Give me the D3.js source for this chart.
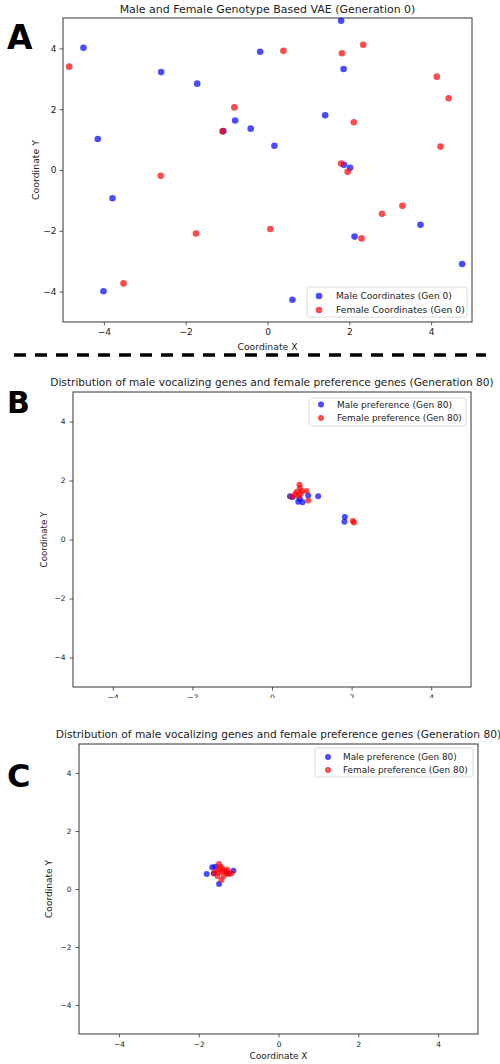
<!DOCTYPE html>
<html>
<head>
<meta charset="utf-8">
<script src="https://cdn.jsdelivr.net/npm/d3@7"></script>
<style>
  html, body { margin: 0; padding: 0; background: #fff; }
  svg { display: block; }
  text { font-family: "DejaVu Sans", sans-serif; fill: #222; }
</style>
</head>
<body>
<script>
// ---------------- DATA ----------------
const xTicks = [-4, -2, 0, 2, 4];
const yTicks = [-4, -2, 0, 2, 4];

// Panel A: Generation 0
const titleA = "Male and Female Genotype Based VAE (Generation 0)";
const legendA = ["Male Coordinates (Gen 0)", "Female Coordinates (Gen 0)"];
const maleA_x = [-4.50, -4.15, -2.60, -1.72, -1.08, -0.79, -0.41, -0.18, 1.80, 1.86, 1.41, 0.17, 1.87, 2.02, -3.79, -4.01, 2.13, 3.74, 4.76, 0.61];
const maleA_y = [4.02, 1.02, 3.22, 2.84, 1.28, 1.63, 1.36, 3.89, 4.91, 3.32, 1.80, 0.80, 0.17, 0.07, -0.93, -3.99, -2.19, -1.80, -3.09, -4.27];
const femaleA_x = [-4.85, -0.81, -1.10, -2.61, 0.39, 2.34, 1.82, 4.14, 4.43, 2.11, 4.23, 1.80, 1.96, -1.75, -3.52, 0.07, 2.80, 3.30, 2.30];
const femaleA_y = [3.40, 2.06, 1.27, -0.19, 3.92, 4.12, 3.84, 3.07, 2.36, 1.57, 0.77, 0.21, -0.06, -2.09, -3.73, -1.94, -1.44, -1.18, -2.25];

// Panel B: Generation 80
const titleB = "Distribution of male vocalizing genes and female preference genes (Generation 80)";
const legendB = ["Male preference (Gen 80)", "Female preference (Gen 80)"];
const maleB_x = [0.45, 0.91, 1.16, 0.66, 0.77, 0.70, 0.52, 1.83, 1.82];
const maleB_y = [1.47, 1.49, 1.47, 1.28, 1.26, 1.38, 1.44, 0.76, 0.60];
const femaleB_x = [0.69, 0.70, 0.62, 0.75, 0.87, 0.58, 0.49, 0.91, 0.66, 0.72, 2.03, 2.06];
const femaleB_y = [1.86, 1.75, 1.62, 1.64, 1.64, 1.53, 1.45, 1.32, 1.47, 1.55, 0.63, 0.58];

// Panel C: Generation 80
const titleC = "Distribution of male vocalizing genes and female preference genes (Generation 80)";
const legendC = ["Male preference (Gen 80)", "Female preference (Gen 80)"];
const maleC_x = [-1.80, -1.66, -1.58, -1.49, -1.13, -1.62, -1.28];
const maleC_y = [0.52, 0.75, 0.77, 0.17, 0.63, 0.54, 0.54];
const femaleC_x = [-1.49, -1.53, -1.41, -1.33, -1.62, -1.18, -1.53, -1.37, -1.43, -1.24, -1.45, -1.28, -1.40, -1.50];
const femaleC_y = [0.86, 0.66, 0.60, 0.60, 0.54, 0.54, 0.45, 0.45, 0.31, 0.52, 0.77, 0.66, 0.70, 0.58];

const axisLabelX = "Coordinate X";
const axisLabelY = "Coordinate Y";

// ---------------- DRAW ----------------
const W = 500, H = 1064;
const svg = d3.select("body").append("svg").attr("width", W).attr("height", H);

const MALE = "rgba(0,0,255,0.7)";
const FEMALE = "rgba(255,0,0,0.7)";

function fitText(sel, target) {
  const w = sel.node().getComputedTextLength();
  const fs = parseFloat(sel.attr("font-size"));
  if (w > 0) sel.attr("font-size", fs * target / w);
  return sel;
}

function zip(xs, ys) { return xs.map((x, i) => ({ x, y: ys[i] })); }

function panel(cfg) {
  const g = svg.append("g");
  const clipId = "clip" + cfg.letter;
  if (cfg.clipBottom) {
    svg.append("clipPath").attr("id", clipId)
      .append("rect").attr("x", 0).attr("y", 0).attr("width", W).attr("height", cfg.clipBottom);
    g.attr("clip-path", `url(#${clipId})`);
  }
  const x = d3.scaleLinear().domain([-5, 5]).range([cfg.left, cfg.right]);
  const y = d3.scaleLinear().domain([-5, 5]).range([cfg.bottom, cfg.top]);

  // axes
  const xa = g.append("g").attr("transform", `translate(0,${cfg.bottom})`)
    .call(d3.axisBottom(x).tickValues(xTicks).tickSize(3.5).tickPadding(cfg.tickPad)
      .tickFormat(d => d < 0 ? "\u2212" + Math.abs(d) : String(d)));
  const ya = g.append("g").attr("transform", `translate(${cfg.left},0)`)
    .call(d3.axisLeft(y).tickValues(yTicks).tickSize(3.5).tickPadding(cfg.tickPad)
      .tickFormat(d => d < 0 ? "\u2212" + Math.abs(d) : String(d)));
  [xa, ya].forEach(a => {
    a.select(".domain").remove();
    a.selectAll("line").attr("stroke", "#333").attr("stroke-width", 0.8);
    a.selectAll("text").attr("font-size", cfg.tickFs).attr("font-family", "DejaVu Sans").attr("fill", "#222");
  });

  // frame
  g.append("rect").attr("x", cfg.left).attr("y", cfg.top)
    .attr("width", cfg.right - cfg.left).attr("height", cfg.bottom - cfg.top)
    .attr("fill", "none").attr("stroke", "#333").attr("stroke-width", 1);

  // points
  g.append("g").selectAll("circle").data(cfg.male).join("circle")
    .attr("cx", d => x(d.x)).attr("cy", d => y(d.y)).attr("r", cfg.r).attr("fill", MALE);
  g.append("g").selectAll("circle").data(cfg.female).join("circle")
    .attr("cx", d => x(d.x)).attr("cy", d => y(d.y)).attr("r", cfg.r).attr("fill", FEMALE);

  // title
  const t = g.append("text").attr("x", (cfg.left + cfg.right) / 2).attr("y", cfg.titleY)
    .attr("text-anchor", "middle").attr("font-size", 10).text(cfg.title);
  fitText(t, cfg.titleW);

  // axis labels
  if (cfg.xLabelY) {
    const xl = g.append("text").attr("x", (cfg.left + cfg.right) / 2).attr("y", cfg.xLabelY)
      .attr("text-anchor", "middle").attr("font-size", 9).text(axisLabelX);
    fitText(xl, cfg.axisLabelW);
  }
  const yl = g.append("text")
    .attr("transform", `translate(${cfg.yLabelX},${(cfg.top + cfg.bottom) / 2}) rotate(-90)`)
    .attr("text-anchor", "middle").attr("font-size", 9).text(axisLabelY);
  fitText(yl, cfg.axisLabelW);

  // legend
  const L = cfg.legend;
  g.append("rect").attr("x", L.x0).attr("y", L.y0).attr("width", L.x1 - L.x0).attr("height", L.y1 - L.y0)
    .attr("rx", 2).attr("fill", "rgba(255,255,255,0.85)").attr("stroke", "#d0d0d0").attr("stroke-width", 0.8);
  [MALE, FEMALE].forEach((c, i) => {
    const cy = L.rowY[i];
    g.append("circle").attr("cx", L.mx).attr("cy", cy).attr("r", cfg.r).attr("fill", c);
    const lt = g.append("text").attr("x", L.tx).attr("y", cy).attr("dy", "0.35em")
      .attr("font-size", 9).text(cfg.legendText[i]);
    fitText(lt, L.textW[i]);
  });

  // panel letter
  svg.append("text").attr("x", 7).attr("y", cfg.letterY)
    .attr("font-family", "Liberation Sans, Arial, sans-serif").attr("font-weight", "bold")
    .attr("font-size", cfg.letterFs).style("fill", "#000").text(cfg.letter);
}

panel({
  letter: "A", letterY: 49, letterFs: 33,
  left: 63, right: 472, top: 18, bottom: 322,
  title: titleA, titleY: 13, titleW: 296,
  tickFs: 9, tickPad: 3, xLabelY: 350, yLabelX: 39, axisLabelW: 60,
  r: 3.3,
  male: zip(maleA_x, maleA_y), female: zip(femaleA_x, femaleA_y),
  legendText: legendA,
  legend: { x0: 307, x1: 467, y0: 287, y1: 317, mx: 319, tx: 336, rowY: [296, 310], textW: [116, 129] }
});

// dashed separator
svg.append("line").attr("x1", 14).attr("x2", 486).attr("y1", 355).attr("y2", 355)
  .attr("stroke", "#000").attr("stroke-width", 3.3).attr("stroke-dasharray", "12,9");

panel({
  letter: "B", letterY: 413, letterFs: 30,
  left: 73, right: 471, top: 392, bottom: 687, clipBottom: 698,
  title: titleB, titleY: 386, titleW: 444,
  tickFs: 7.5, tickPad: 4, xLabelY: null, yLabelX: 47, axisLabelW: 56,
  r: 3.0,
  male: zip(maleB_x, maleB_y), female: zip(femaleB_x, femaleB_y),
  legendText: legendB,
  legend: { x0: 309, x1: 466, y0: 398, y1: 426, mx: 321, tx: 337, rowY: [404.5, 418], textW: [115, 125] }
});

panel({
  letter: "C", letterY: 787, letterFs: 32,
  left: 79, right: 478, top: 744, bottom: 1034,
  title: titleC, titleY: 738, titleW: 446,
  tickFs: 7.4, tickPad: 4, xLabelY: 1059, yLabelX: 52, axisLabelW: 58,
  r: 3.0,
  male: zip(maleC_x, maleC_y), female: zip(femaleC_x, femaleC_y),
  legendText: legendC,
  legend: { x0: 315, x1: 473, y0: 748, y1: 777, mx: 328, tx: 343, rowY: [757, 770], textW: [114, 125] }
});
</script>
</body>
</html>
